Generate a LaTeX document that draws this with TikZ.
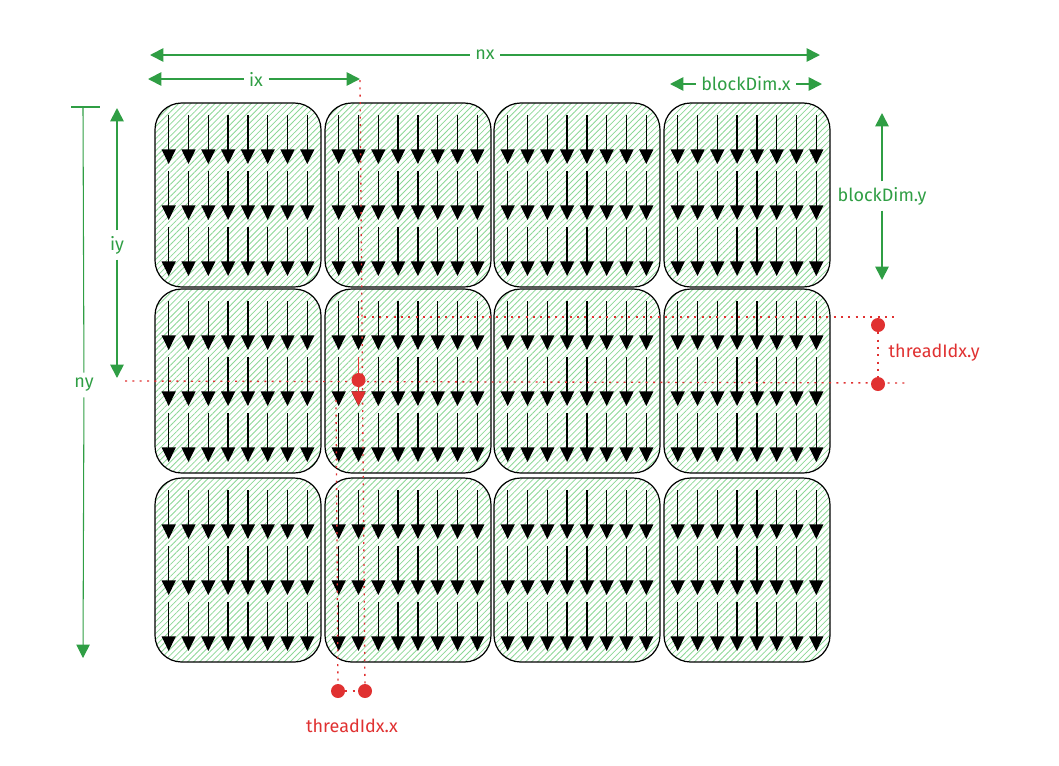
\documentclass[tikz,border=0pt]{standalone}
\usepackage{fontspec}
\setmainfont{Fira Sans}
\usetikzlibrary{arrows.meta,patterns.meta}
\definecolor{dimgreen}{RGB}{47,158,68}
\definecolor{idxred}{RGB}{224,49,49}
\definecolor{hatchgreen}{RGB}{140,215,150}
\tikzset{
  block/.style={draw=black, line width=0.9pt, rounded corners=20pt, minimum width=124.5pt, minimum height=138pt,
    pattern={Lines[angle=45,distance=3.2pt,line width=0.6pt]}, pattern color=hatchgreen},
  thread/.style={line width=1pt, -{Triangle[length=11pt,width=10.5pt]}},
  dimarrow/.style={draw=dimgreen, line width=1.3pt, -{Triangle[length=10pt,width=10pt]}},
  dimlabel/.style={text=dimgreen, font=\fontsize{13.5}{15}\selectfont, inner sep=4pt},
  idxlabel/.style={text=idxred, font=\fontsize{13.5}{15}\selectfont},
  guide/.style={draw=idxred, line width=1pt, dash pattern=on 1.5pt off 4pt},
  marker/.style={circle, fill=idxred, inner sep=0pt, minimum size=10.5pt}
}
\begin{document}
\begin{tikzpicture}[x=0.75pt,y=-0.75pt]
    \useasboundingbox (0,0) rectangle (1059,765);
    \foreach \cx [count=\c] in {238,408,577,747}{
        \foreach \cy [count=\r] in {195,381,570}{
            \node[block] (b\r\c) at (\cx,\cy) {};
            \foreach \i in {-3.5,-2.5,...,3.5}{
                \foreach \s in {-80,-24,32}{
                    \draw[thread] ({\cx+19.8*\i},{\cy+\s}) -- ({\cx+19.8*\i},{\cy+\s+49});
                }
            }
        }
    }
    \draw[thread, idxred] (358.5,357) -- (358.5,406);

    \coordinate (nxL) at (150,55);
    \coordinate (nxR) at (820,55);
    \node[dimlabel] (nx) at (485,55) {nx};
    \draw[dimarrow] (nx) -- (nxL);
    \draw[dimarrow] (nx) -- (nxR);
    \coordinate (ixL) at (148,79);
    \coordinate (ixR) at (360,79);
    \node[dimlabel] (ix) at (256,79) {ix};
    \draw[dimarrow] (ix) -- (ixL);
    \draw[dimarrow] (ix) -- (ixR);
    \coordinate (bxL) at (670,84);
    \coordinate (bxR) at (822,84);
    \node[dimlabel] (bx) at (746,84) {blockDim.x};
    \draw[dimarrow] (bx) -- (bxL);
    \draw[dimarrow] (bx) -- (bxR);
    \coordinate (iyT) at (117,108);
    \coordinate (iyB) at (117,378);
    \node[dimlabel] (iy) at (117,245) {iy};
    \draw[dimarrow] (iy) -- (iyT);
    \draw[dimarrow] (iy) -- (iyB);
    \coordinate (byT) at (882,113);
    \coordinate (byB) at (882,280);
    \node[dimlabel] (by) at (882,196) {blockDim.y};
    \draw[dimarrow] (by) -- (byT);
    \draw[dimarrow] (by) -- (byB);
    \coordinate (nyT) at (83,107);
    \coordinate (nyB) at (83,658);
    \coordinate (nyTL) at (71,107);
    \coordinate (nyTR) at (100,107);
    \node[dimlabel] (ny) at (84,385) {ny};
    \draw[dimgreen, line width=0.8pt] (nyTL) -- (nyTR);
    \draw[dimgreen, line width=0.8pt] (ny) -- (nyT);
    \draw[dimarrow, line width=0.8pt] (ny) -- (nyB);

    \coordinate (gTop) at (360,80);
    \coordinate (gMid) at (336,400);
    \node[marker] (dx1) at (338,691) {};
    \node[marker] (dx2) at (365,691) {};
    \draw[guide] (gTop) -- (dx2);
    \draw[guide] (gMid) -- (dx1);
    \draw[guide] (dx1) -- (dx2);
    \node[idxlabel] (tx) at (352,726) {threadIdx.x};
    \coordinate (hL1) at (357,317);
    \coordinate (hR1) at (895,317);
    \coordinate (hL2) at (125,381);
    \coordinate (hR2) at (905,383);
    \draw[guide] (hL1) -- (hR1);
    \draw[guide] (hL2) -- (hR2);
    \node[marker] (dy1) at (878,325) {};
    \node[marker] (dy2) at (878,384) {};
    \draw[guide] (dy1) -- (dy2);
    \node[idxlabel, anchor=west] (ty) at (884,353) {threadIdx.y};
    \node[marker] (thr) at (358.5,380) {};
\end{tikzpicture}
\end{document}
